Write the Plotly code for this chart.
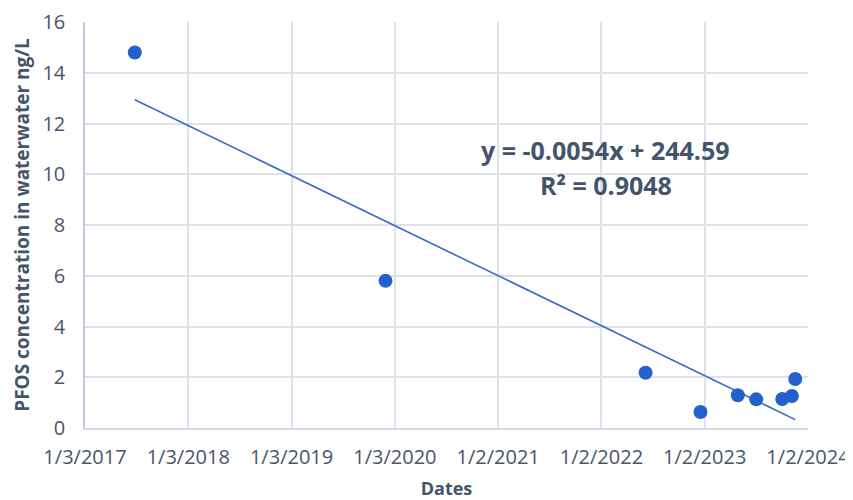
import plotly.graph_objects as go
import pandas as pd
import numpy as np

# Data
dates = ["2017-06-28", "2019-12-01", "2022-06-07", "2022-12-18", "2023-04-29",
         "2023-07-03", "2023-10-03", "2023-11-06", "2023-11-18"]
pfos = [14.8, 5.8, 2.18, 0.63, 1.29, 1.13, 1.14, 1.26, 1.93]

# Trendline (Excel linear fit on serial dates), as displayed
slope = -0.0054
intercept = 244.59
eq_text = "y = -0.0054x + 244.59"
r2_text = "R² = 0.9048"

tick_dates = ["2017-01-03", "2018-01-03", "2019-01-03", "2020-01-03",
              "2021-01-02", "2022-01-02", "2023-01-02", "2024-01-02"]
tick_labels = ["1/3/2017", "1/3/2018", "1/3/2019", "1/3/2020",
               "1/2/2021", "1/2/2022", "1/2/2023", "1/2/2024"]
y_ticks = [0, 2, 4, 6, 8, 10, 12, 14, 16]

d = pd.to_datetime(dates)
excel_epoch = pd.Timestamp("1899-12-30")
serial = np.array([(x - excel_epoch).days for x in d], dtype=float)
tx = [d.min(), d.max()]
ty = [slope * serial.min() + intercept + 0.08, slope * serial.max() + intercept + 0.08]

fig = go.Figure()
fig.add_trace(go.Scatter(x=tx, y=ty, mode="lines",
                         line=dict(color="#3E6BC6", width=1.6),
                         hoverinfo="skip", showlegend=False))
fig.add_trace(go.Scatter(x=d, y=pfos, mode="markers",
                         marker=dict(color="#2360CC", size=14,
                                     line=dict(width=0)),
                         showlegend=False))

font_col = "#44546A"
fig.add_annotation(x=0.72, y=0.685, xref="paper", yref="paper",
                   xanchor="center", yanchor="middle",
                   text="<b>" + eq_text + "</b>", showarrow=False,
                   font=dict(family="Open Sans", size=25, color=font_col))
fig.add_annotation(x=0.72, y=0.599, xref="paper", yref="paper",
                   xanchor="center", yanchor="middle",
                   text="<b>" + r2_text + "</b>", showarrow=False,
                   font=dict(family="Open Sans", size=25, color=font_col))

fig.update_layout(
    width=845, height=492,
    margin=dict(l=77, r=45, t=14, b=72),
    paper_bgcolor="white", plot_bgcolor="white",
    font=dict(family="Open Sans", color=font_col),
    xaxis=dict(
        range=[pd.Timestamp(tick_dates[0]), pd.Timestamp(tick_dates[-1])],
        tickmode="array", tickvals=pd.to_datetime(tick_dates), ticktext=tick_labels,
        tickfont=dict(size=20, color="#4A5568"),
        showgrid=True, gridcolor="#DCE1EA", gridwidth=1.5,
        showline=True, linecolor="#D3DAE6", linewidth=1.5,
        zeroline=False, ticks="", ticklabelstandoff=10, automargin=False,
        title=dict(text="<b>Dates</b>", font=dict(size=18, color=font_col), standoff=16),
    ),
    yaxis=dict(
        range=[0, 16], tickmode="array", tickvals=y_ticks,
        tickfont=dict(size=20, color="#4A5568"),
        showgrid=True, gridcolor="#DCE1EA", gridwidth=1.5,
        showline=True, linecolor="#BFCCE0", linewidth=1.5,
        zeroline=False, ticks="", ticklabelstandoff=14, automargin=False,
        title=dict(text="<b>PFOS concentration in waterwater ng/L</b>",
                   font=dict(size=19, color=font_col), standoff=8),
    ),
)

fig.write_html("out.html")
